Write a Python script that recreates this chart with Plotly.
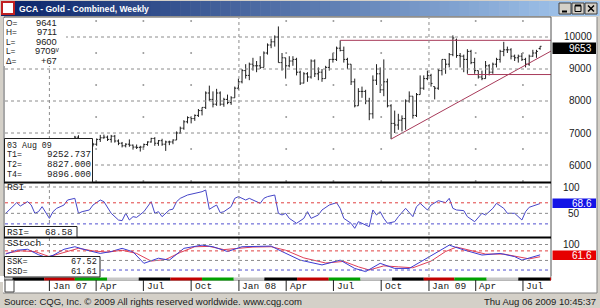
import plotly.graph_objects as go
import pandas as pd

W, H = 600, 308
def px(x): return x / W
def py(y): return 1 - y / H

# ---------------- data (weekly, price x10) ----------------
week0 = pd.Timestamp("2006-10-09")
opens = [5800,5880,5950,6000,6260,6200,6280,6350,6480,6290,6260,6200,6360,6100,6270,6320,6500,6600,6700,6700,
         6870,6450,6580,6550,6650,6650,6800,6850,6870,6800,6900,6750,6680,6600,6650,6620,6560,6550,6560,6640,
         6720,6830,6680,6760,6650,6720,6720,6780,7000,7150,7350,7480,7450,7550,7700,7800,8250,8050,7900,8250,
         7900,8050,7950,8100,8400,8600,8950,8800,9150,9100,9100,9050,9500,9750,9850,10000,9200,9350,9100,9250,
         9300,8900,8560,8850,8750,9250,8850,8900,8700,9050,9300,9300,9650,9580,9300,9150,8600,7850,8300,8300,
         8000,7600,8650,8850,8350,8600,7850,7300,7250,7400,7450,8000,8150,7550,8200,8400,8700,8800,8450,8400,
         8950,9300,9150,9450,9900,9420,9400,9300,9550,9200,8950,8750,8700,9100,8900,9150,9300,9550,9600,9600,
         9400,9350,9400,9300,9150,9400,9500,9641]
highs = [5960,6000,6050,6320,6330,6300,6380,6500,6480,6340,6330,6390,6360,6300,6380,6510,6640,6710,6740,6910,
         6930,6620,6620,6700,6690,6830,6940,6950,6920,6940,6940,6800,6720,6680,6800,6640,6640,6600,6670,6740,
         6850,6870,6780,6820,6760,6760,6800,7050,7200,7400,7520,7500,7580,7750,7800,8300,8480,8300,8380,8300,
         8100,8200,8150,8450,8700,9000,9150,9200,9350,9250,9400,9550,9800,9950,10050,10330,9500,9350,9400,9400,
         9350,8950,8900,8900,9300,9300,9050,9000,9100,9300,9500,9700,9896,9700,9350,9150,8700,8400,8450,8350,
         8100,8800,9150,9050,9300,8700,7900,7700,7600,7550,8050,8300,8150,8250,8800,8800,8950,8850,8450,9000,
         9300,9300,9500,10050,9950,9500,9450,9620,9600,9350,8950,8950,9250,9150,9200,9350,9600,9850,9700,9650,
         9450,9450,9500,9350,9450,9600,9600,9711]
lows = [5740,5850,5860,6000,6160,6150,6200,6350,6250,6170,6170,6200,6050,6080,6240,6300,6460,6560,6600,6700,
        6400,6380,6420,6500,6580,6600,6720,6820,6750,6700,6700,6620,6550,6550,6570,6480,6500,6420,6550,6600,
        6700,6600,6600,6600,6440,6620,6650,6780,6980,7100,7300,7300,7380,7500,7550,7750,8000,7800,7850,7850,
        7820,7900,7880,8100,8350,8550,8700,8650,8950,8900,9000,9050,9450,9650,9700,9200,8950,8700,9050,9100,
        8800,8500,8550,8600,8700,8750,8650,8600,8700,8950,9200,9250,9550,9200,9000,8500,7800,7850,8100,7900,
        7400,7450,8500,8250,8150,7800,6810,7000,7100,7050,7100,7950,7450,7500,8200,8350,8650,8450,8050,8350,
        8800,8850,9050,9400,9350,9050,8900,8850,9150,8850,8700,8650,8700,8800,8850,9050,9200,9400,9500,9300,
        9250,9200,9250,9050,9100,9380,9350,9600]
closes = [5880,5950,6000,6260,6200,6280,6350,6480,6290,6260,6200,6360,6100,6270,6320,6500,6600,6700,6700,6870,
          6450,6580,6550,6650,6650,6800,6850,6870,6800,6900,6750,6680,6600,6650,6620,6560,6550,6560,6640,6720,
          6830,6680,6760,6650,6720,6720,6780,7000,7150,7350,7480,7450,7550,7700,7800,8250,8050,7900,8250,7900,
          8050,7950,8100,8400,8600,8950,8800,9150,9100,9100,9050,9500,9750,9850,10000,9200,9350,9100,9250,9300,
          8900,8560,8850,8750,9250,8850,8900,8700,9050,9300,9300,9650,9580,9300,9150,8600,7850,8300,8300,8000,
          7600,8650,8850,8350,8600,7850,7300,7250,7400,7450,8000,8150,7550,8200,8400,8700,8800,8550,8400,8950,
          9300,9150,9450,9970,9420,9400,9300,9550,9200,8950,8750,8700,9100,8900,9150,9300,9550,9600,9600,9400,
          9350,9400,9300,9150,9400,9500,9550,9709]
dates = [week0 + pd.Timedelta(weeks=i) for i in range(len(closes))]

rsi_week = [0,2,3,4,6,7,8,9,10,12,13,14,16,17,19,20,21,23,24,26,27,29,30,31,32,33,34,35,36,38,40,41,42,43,45,46,47,48,
            50,52,54,55,56,57,58,59,60,62,63,64,66,67,68,70,71,72,74,75,76,77,78,80,82,83,84,86,87,89,91,92,93,95,96,
            97,98,99,100,101,102,103,104,105,107,108,110,112,113,114,116,117,119,121,122,123,124,126,127,129,131,132,
            134,135,137,138,140,142,143,144,146,147]
rsi_val = [50,62.7,70.3,63.9,72.2,65.8,50.1,53.2,62.7,40.5,53.2,59.5,65.8,75.3,78.5,50.1,53.2,56.4,65.8,75.3,72.2,50.1,
           43.7,37.4,36.1,50.1,37.4,43.7,42.4,53.2,72.2,50.1,53.2,43.7,56.4,58,72.2,78.5,84.8,88,91.1,94.3,57.6,62,65.8,
           51.3,53.2,62.7,78.5,81.7,75.3,78.5,75.3,69,78.5,81.7,84.8,50.1,46.9,50.1,40.5,31.1,40.5,53.2,40.5,46.9,56.4,
           65.8,70.3,59.5,40.5,31.1,21.6,34.2,31.1,28,24.7,56.4,46.9,53.2,40.5,31.1,34.2,43.7,59.5,43.7,62.7,69,56.4,
           65.8,74,70.3,78.5,59.5,56.4,55.2,43.7,34.2,50.1,46.9,59.5,69,59.5,50.1,50.1,37.4,53.2,61.5,65.8,68.58]

ssk_week = [0,3,6,9,11,13,16,19,22,26,29,32,35,38,42,45,49,54,57,61,65,68,73,76,81,87,92,96,99,103,107,111,116,120,
            122,126,131,136,140,142,146,147]
ssk_val = [70,82,85,68,60,66,85,93,83,72,78,88,77,41,57,51,88,98,93,78,93,93,95,78,51,36,51,25,15,41,25,25,57,83,
           98,83,67,72,62,51,64,67.52]
ssd_week = [0,4,8,12,16,20,24,28,32,36,40,44,48,52,56,60,64,68,73,77,82,88,93,97,100,104,108,112,117,121,124,128,
            132,137,141,144,147]
ssd_val = [72,80,78,62,75,88,80,76,82,72,48,53,75,93,94,84,88,92,93,82,58,42,47,30,20,33,30,27,48,78,92,82,70,70,
           62,55,61.61]

trend_dates = ["2008-10-20", "2009-08-24"]
trend_vals = [6810, 9560]
t4_dates = ["2008-07-14", "2009-08-24"]; t4_val = 9896
t2_dates = ["2009-03-16", "2009-08-24"]; t2_val = 8827

price_ticks = [10000, 9000, 8000, 7000, 6000]
year_lines = ["2007-01-01", "2008-01-01", "2009-01-01"]
quarter_dates = ["2007-01-01","2007-04-01","2007-07-01","2007-10-01","2008-01-01","2008-04-01","2008-07-01",
                 "2008-10-01","2009-01-01","2009-04-01","2009-07-01"]
quarter_text = ["Jan 07","Apr","Jul","Oct","Jan 08","Apr","Jul","Oct","Jan 09","Apr","Jul"]
strip_bounds = ["2006-08-22","2006-10-22","2006-12-22","2007-02-19","2007-04-22","2007-06-22","2007-08-22",
                "2007-10-22","2007-12-22","2008-02-19","2008-04-22","2008-06-22","2008-08-22","2008-10-22",
                "2008-12-22","2009-02-19","2009-04-22","2009-06-22","2009-08-22","2009-10-22"]
strip_colors = ["#c8c8c8","#000000","#c00000","#00a000"]

# ---------------- figure ----------------
fig = go.Figure()
fig.add_trace(go.Ohlc(x=dates, open=opens, high=highs, low=lows, close=closes,
                      increasing=dict(line=dict(color="#1e1e1e", width=1)),
                      decreasing=dict(line=dict(color="#1e1e1e", width=1)),
                      tickwidth=0.4, xaxis="x", yaxis="y", hoverinfo="skip"))
tl = dict(color="#a83a5a", width=1)
fig.add_trace(go.Scatter(x=pd.to_datetime(trend_dates), y=trend_vals, mode="lines", line=tl, xaxis="x", yaxis="y"))
fig.add_trace(go.Scatter(x=pd.to_datetime(t4_dates), y=[t4_val]*2, mode="lines", line=tl, xaxis="x", yaxis="y"))
fig.add_trace(go.Scatter(x=pd.to_datetime(t2_dates), y=[t2_val]*2, mode="lines", line=tl, xaxis="x", yaxis="y"))

fig.add_trace(go.Scatter(x=[dates[i] for i in rsi_week], y=rsi_val, mode="lines",
                         line=dict(color="#4646c8", width=1), xaxis="x", yaxis="y2"))
fig.add_trace(go.Scatter(x=[dates[i] for i in ssd_week], y=ssd_val, mode="lines",
                         line=dict(color="#e0405a", width=1), xaxis="x", yaxis="y3"))
fig.add_trace(go.Scatter(x=[dates[i] for i in ssk_week], y=ssk_val, mode="lines",
                         line=dict(color="#3c3cd2", width=1), xaxis="x", yaxis="y3"))

# minor dots at quarter lines
dot_x, dot_y = [], []
for d in quarter_dates:
    if d[5:7] != "01":
        for v in [10500, 9500, 8500, 7500, 6500, 5500]:
            dot_x.append(pd.Timestamp(d)); dot_y.append(v)
fig.add_trace(go.Scatter(x=dot_x, y=dot_y, mode="markers", marker=dict(size=2, color="#9a9a9a"),
                         xaxis="x", yaxis="y"))

x_start = week0 - pd.Timedelta(days=1.5)
x_end = week0 + pd.Timedelta(days=7 * 150)

shapes = []
annos = []
def line_px(x0, y0, x1, y1, color="#000", width=1):
    shapes.append(dict(type="line", xref="paper", yref="paper", x0=px(x0), x1=px(x1), y0=py(y0), y1=py(y1),
                       line=dict(color=color, width=width)))

# background window
shapes.append(dict(type="rect", xref="paper", yref="paper", x0=px(3), x1=px(597), y0=py(293), y1=py(17),
                   fillcolor="#ffffff", line=dict(width=0), layer="below"))
# title bar gradient
c0 = (10, 36, 106); c1 = (166, 202, 240)
N = 60
for k in range(N):
    t = k / (N - 1)
    col = "rgb(%d,%d,%d)" % tuple(int(c0[j] + (c1[j] - c0[j]) * t) for j in range(3))
    shapes.append(dict(type="rect", xref="paper", yref="paper", x0=px(1 + k * 598 / N), x1=px(1 + (k + 1) * 598 / N + 0.5),
                       y0=py(16), y1=py(1), fillcolor=col, line=dict(width=0), layer="below"))
# icon
shapes.append(dict(type="rect", xref="paper", yref="paper", x0=px(2), x1=px(14), y0=py(14), y1=py(2),
                   fillcolor="#ffffff", line=dict(color="#c02020", width=2)))
# window buttons drawn as shapes
for bx in (559, 572, 585):
    shapes.append(dict(type="rect", xref="paper", yref="paper", x0=px(bx), x1=px(bx + 12), y0=py(14), y1=py(3),
                       fillcolor="#d4d0c8", line=dict(color="#404040", width=1)))
line_px(562, 11.5, 567, 11.5, width=2)
shapes.append(dict(type="rect", xref="paper", yref="paper", x0=px(575), x1=px(581), y0=py(11.5), y1=py(5.5),
                   line=dict(color="#000", width=1)))
line_px(575, 5.5, 581, 5.5, width=2)
line_px(588, 5.5, 594, 11.5, width=1.5)
line_px(588, 11.5, 594, 5.5, width=1.5)
annos.append(dict(x=px(17), y=py(8.5), xref="paper", yref="paper", text="<b>GCA - Gold - Combined, Weekly</b>",
                  showarrow=False, font=dict(family="Liberation Sans", size=8.6, color="#ffffff"),
                  xanchor="left", yanchor="middle"))

# gridlines
for v in price_ticks:
    shapes.append(dict(type="line", xref="paper", yref="y", x0=px(5), x1=px(551), y0=v, y1=v,
                       line=dict(color="#8c8c8c", width=1, dash="dot")))
for v, c in [(100, "#8c8c8c"), (50, "#8c8c8c"), (70, "#e04040"), (30, "#5050d0")]:
    shapes.append(dict(type="line", xref="paper", yref="y2", x0=px(5), x1=px(551), y0=v, y1=v,
                       line=dict(color=c, width=1, dash="dot")))
for v, c in [(100, "#8c8c8c"), (50, "#8c8c8c"), (80, "#e04040"), (20, "#5050d0")]:
    shapes.append(dict(type="line", xref="paper", yref="y3", x0=px(5), x1=px(551), y0=v, y1=v,
                       line=dict(color=c, width=1, dash="dot")))
for d in year_lines:
    shapes.append(dict(type="line", xref="x", yref="paper", x0=d, x1=d, y0=py(277), y1=py(18),
                       line=dict(color="#8c8c8c", width=1, dash="dot")))

# frame and separators
shapes.append(dict(type="rect", xref="paper", yref="paper", x0=px(4), x1=px(551), y0=py(280), y1=py(17),
                   line=dict(color="#505050", width=1)))
for yy in [182.5, 237.5]:
    line_px(4, yy, 551, yy, width=2)
line_px(597, 293, 597, 17, color="#808080")
line_px(3, 293, 597, 293, color="#808080")

# time strip
for k in range(len(strip_bounds) - 1):
    shapes.append(dict(type="rect", xref="x", yref="paper", x0=strip_bounds[k], x1=strip_bounds[k + 1],
                       y0=py(280.5), y1=py(277.5), fillcolor=strip_colors[k % 4], line=dict(width=0)))
shapes.append(dict(type="rect", xref="paper", yref="paper", x0=px(0), x1=px(4), y0=py(282), y1=py(276),
                   fillcolor="#ffffff", line=dict(width=0)))
shapes.append(dict(type="rect", xref="paper", yref="paper", x0=px(551.5), x1=px(596), y0=py(282), y1=py(276),
                   fillcolor="#ffffff", line=dict(width=0)))
shapes.append(dict(type="rect", xref="paper", yref="paper", x0=px(5), x1=px(14), y0=py(292), y1=py(280),
                   fillcolor="#ffffff", line=dict(color="#404040", width=1)))
for d, t in zip(quarter_dates, quarter_text):
    shapes.append(dict(type="line", xref="x", yref="paper", x0=d, x1=d, y0=py(291), y1=py(280),
                       line=dict(color="#202020", width=1)))
    annos.append(dict(x=d, y=py(286), xref="x", yref="paper", text=t, showarrow=False, xshift=1.5,
                      font=dict(family="Liberation Mono", size=9.5, color="#202020"), xanchor="left", yanchor="middle"))

# right axis labels
for v in price_ticks:
    annos.append(dict(x=px(594), y=v, xref="paper", yref="y", text=str(v), showarrow=False,
                      font=dict(family="Liberation Sans", size=10, color="#202020"), xanchor="right", yanchor="middle"))
for v, t in [(100, "100"), (50, "50")]:
    annos.append(dict(x=px(582), y=v, xref="paper", yref="y2", text=t, showarrow=False,
                      font=dict(family="Liberation Sans", size=10, color="#202020"), xanchor="right", yanchor="middle"))
annos.append(dict(x=px(582), y=100, xref="paper", yref="y3", text="100", showarrow=False,
                  font=dict(family="Liberation Sans", size=10, color="#202020"), xanchor="right", yanchor="middle"))
for (y0, y1, fc, txt) in [(42.5, 54, "#000000", "9653"), (198.5, 208, "#1414e6", "68.6"), (250.5, 260, "#e60000", "61.6")]:
    shapes.append(dict(type="rect", xref="paper", yref="paper", x0=px(552.5), x1=px(596), y0=py(y1), y1=py(y0),
                       fillcolor=fc, line=dict(width=0)))
    annos.append(dict(x=px(594), y=py((y0 + y1) / 2), xref="paper", yref="paper", text=txt, showarrow=False,
                      font=dict(family="Liberation Sans", size=10, color="#ffffff"), xanchor="right", yanchor="middle"))

# info boxes
mono = "Liberation Mono"
box_fs = 8.3
shapes.append(dict(type="rect", xref="paper", yref="paper", x0=px(4), x1=px(66), y0=py(66), y1=py(18),
                   fillcolor="#ffffff", line=dict(width=0)))
for k, (lab, val) in enumerate([("O=", "9641"), ("H=", "9711"), ("L=", "9600"), ("L=", "9709ᵛ"), ("Δ=", "+67")]):
    yy = 22.7 + k * 9.6
    annos.append(dict(x=px(5), y=py(yy), xref="paper", yref="paper", text=lab, showarrow=False, borderpad=0,
                      font=dict(family="Liberation Sans", size=box_fs, color="#202020"), xanchor="left", yanchor="middle"))
    annos.append(dict(x=px(58 if k != 3 else 61), y=py(yy), xref="paper", yref="paper", text=val, showarrow=False,
                      borderpad=0, font=dict(family="Liberation Sans", size=box_fs + 1, color="#202020"),
                      xanchor="right", yanchor="middle"))

shapes.append(dict(type="rect", xref="paper", yref="paper", x0=px(4.5), x1=px(92.5), y0=py(182), y1=py(138.5),
                   fillcolor="#ffffff", line=dict(color="#202020", width=1)))
annos.append(dict(x=px(6), y=py(145), xref="paper", yref="paper", text="03 Aug 09", showarrow=False, borderpad=0,
                  font=dict(family=mono, size=box_fs, color="#202020"), xanchor="left", yanchor="middle"))
for k, (lab, val) in enumerate([("T1=", "9252.737"), ("T2=", "8827.000"), ("T4=", "9896.000")]):
    yy = 154.7 + k * 9.7
    annos.append(dict(x=px(6), y=py(yy), xref="paper", yref="paper", text=lab, showarrow=False, borderpad=0,
                      font=dict(family=mono, size=box_fs, color="#202020"), xanchor="left", yanchor="middle"))
    annos.append(dict(x=px(92), y=py(yy), xref="paper", yref="paper", text=val, showarrow=False, borderpad=0,
                      font=dict(family=mono, size=9.2, color="#202020"), xanchor="right", yanchor="middle"))

annos.append(dict(x=px(6), y=py(187.5), xref="paper", yref="paper", text="RSI", showarrow=False, borderpad=0,
                  font=dict(family=mono, size=9.5, color="#202020"), xanchor="left", yanchor="middle"))
shapes.append(dict(type="rect", xref="paper", yref="paper", x0=px(4.5), x1=px(77), y0=py(237), y1=py(226.5),
                   fillcolor="#ffffff", line=dict(color="#202020", width=1)))
annos.append(dict(x=px(6), y=py(232), xref="paper", yref="paper", text="RSI=", showarrow=False, borderpad=0,
                  font=dict(family=mono, size=9.2, color="#202020"), xanchor="left", yanchor="middle"))
annos.append(dict(x=px(74), y=py(232), xref="paper", yref="paper", text="68.58", showarrow=False, borderpad=0,
                  font=dict(family=mono, size=9.2, color="#202020"), xanchor="right", yanchor="middle"))

annos.append(dict(x=px(6), y=py(243.5), xref="paper", yref="paper", text="SStoch", showarrow=False, borderpad=0,
                  font=dict(family=mono, size=9.5, color="#202020"), xanchor="left", yanchor="middle"))
shapes.append(dict(type="rect", xref="paper", yref="paper", x0=px(4.5), x1=px(100), y0=py(277), y1=py(256.5),
                   fillcolor="#ffffff", line=dict(color="#202020", width=1)))
for k, (lab, val) in enumerate([("SSK=", "67.52"), ("SSD=", "61.61")]):
    yy = 262 + k * 10
    annos.append(dict(x=px(6), y=py(yy), xref="paper", yref="paper", text=lab, showarrow=False, borderpad=0,
                      font=dict(family=mono, size=8.6, color="#202020"), xanchor="left", yanchor="middle"))
    annos.append(dict(x=px(98), y=py(yy), xref="paper", yref="paper", text=val, showarrow=False, borderpad=0,
                      font=dict(family=mono, size=8.6, color="#202020"), xanchor="right", yanchor="middle"))

annos.append(dict(x=px(2), y=py(301), xref="paper", yref="paper",
                  text="Source: CQG, Inc. © 2009 All rights reserved worldwide. www.cqg.com", showarrow=False,
                  font=dict(family="Liberation Sans", size=9.5, color="#202020"), xanchor="left", yanchor="middle"))
annos.append(dict(x=px(598), y=py(301), xref="paper", yref="paper", text="Thu Aug 06 2009 10:45:37", showarrow=False,
                  font=dict(family="Liberation Sans", size=9.5, color="#202020"), xanchor="right", yanchor="middle"))

ax_hidden = dict(visible=False, showgrid=False, zeroline=False, fixedrange=True)
fig.update_layout(
    width=W, height=H, margin=dict(l=0, r=0, t=0, b=0),
    paper_bgcolor="#d4d0c8", plot_bgcolor="rgba(0,0,0,0)", showlegend=False,
    xaxis=dict(domain=[px(5), px(551)], range=[x_start, x_end], type="date", rangeslider=dict(visible=False),
               **ax_hidden),
    yaxis=dict(domain=[py(182), py(18)], range=[10000 - 145 / 0.032, 10000 + 19 / 0.032], **ax_hidden),
    yaxis2=dict(domain=[py(237), py(184)], range=[100 - 50 / 0.527, 100 + 3 / 0.527], **ax_hidden),
    yaxis3=dict(domain=[py(277), py(238)], range=[100 - 32.5 / 0.319, 100 + 6.5 / 0.319], **ax_hidden),
    shapes=shapes, annotations=annos,
)
fig.write_html("out.html")
